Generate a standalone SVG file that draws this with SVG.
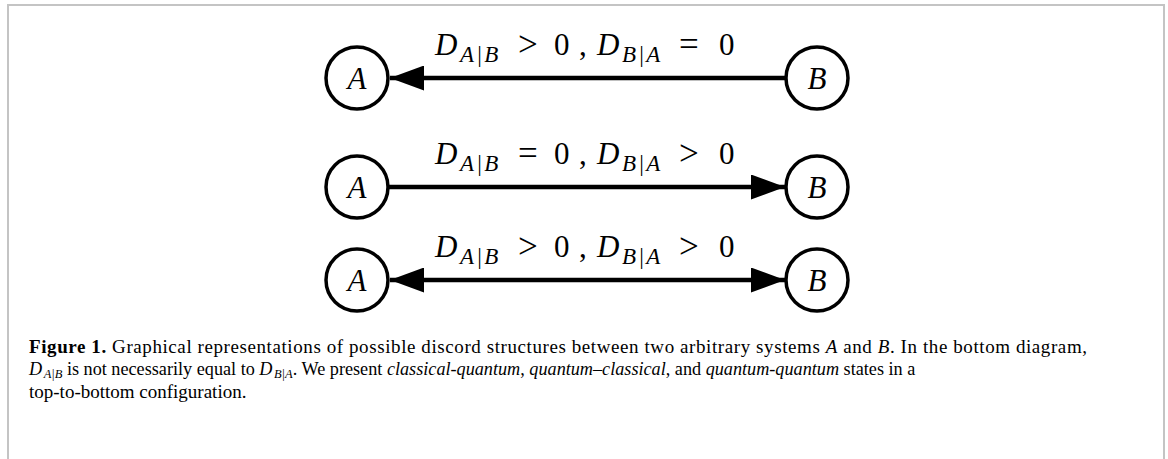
<svg xmlns="http://www.w3.org/2000/svg" width="1168" height="459" viewBox="0 0 1168 459">
<style>
.frame{fill:none;stroke:#c4c4c4;stroke-width:2}
.node circle{fill:#fff;stroke:#000;stroke-width:3.5}
.nl{font-family:"Liberation Serif",serif;font-style:italic;font-size:31px;text-anchor:middle}
.edge{stroke:#000;stroke-width:4.5;fill:none}
.lbl{font-family:"Liberation Serif",serif;font-size:31px}
.it{font-style:italic}
.rel{font-size:35px}
.sub{font-size:23px;letter-spacing:2px;font-style:italic}
.cap{font-family:"Liberation Serif",serif;font-size:19px;fill:#000}
.cap2{font-size:18.2px}
.csub{font-size:12.5px;font-style:italic}
</style>
<defs>
<marker id="ah" viewBox="0 0 34 25" refX="34" refY="12.5" markerWidth="34" markerHeight="25" markerUnits="userSpaceOnUse" orient="auto-start-reverse">
<path d="M0,0 L34,12.5 L0,25 Z" fill="#000"/>
</marker>
</defs>
<rect x="0" y="0" width="1168" height="459" fill="#fff"/>
<path class="frame" d="M8,470 L8,5 L1164,5 L1164,470"/>

<g id="connectors">
<line class="edge" x1="785" y1="78" x2="390" y2="78" marker-end="url(#ah)"/>
<line class="edge" x1="389" y1="187" x2="785" y2="187" marker-end="url(#ah)"/>
<line class="edge" x1="390" y1="280" x2="785" y2="280" marker-start="url(#ah)" marker-end="url(#ah)"/>
</g>

<g id="node-A1" class="node"><circle cx="357" cy="78" r="31"/><text class="nl" x="357" y="89">A</text></g>
<g id="node-B1" class="node"><circle cx="817" cy="78" r="31"/><text class="nl" x="817" y="89">B</text></g>
<g id="node-A2" class="node"><circle cx="357" cy="187" r="31"/><text class="nl" x="357" y="198">A</text></g>
<g id="node-B2" class="node"><circle cx="817" cy="187" r="31"/><text class="nl" x="817" y="198">B</text></g>
<g id="node-A3" class="node"><circle cx="357" cy="280" r="31"/><text class="nl" x="357" y="291">A</text></g>
<g id="node-B3" class="node"><circle cx="817" cy="280" r="31"/><text class="nl" x="817" y="291">B</text></g>

<g id="labels">
<text class="lbl"><tspan class="it" x="435" y="55">D</tspan><tspan class="sub" x="460" y="62">A|B</tspan><tspan class="rel" x="518" y="56">&gt;</tspan><tspan x="554" y="55">0</tspan><tspan x="579" y="55">,</tspan><tspan class="it" x="597" y="55">D</tspan><tspan class="sub" x="622" y="62">B|A</tspan><tspan class="rel" x="679" y="56">=</tspan><tspan x="719" y="55">0</tspan></text>
<text class="lbl"><tspan class="it" x="435" y="164">D</tspan><tspan class="sub" x="460" y="171">A|B</tspan><tspan class="rel" x="518" y="165">=</tspan><tspan x="554" y="164">0</tspan><tspan x="579" y="164">,</tspan><tspan class="it" x="597" y="164">D</tspan><tspan class="sub" x="622" y="171">B|A</tspan><tspan class="rel" x="679" y="165">&gt;</tspan><tspan x="719" y="164">0</tspan></text>
<text class="lbl"><tspan class="it" x="435" y="257">D</tspan><tspan class="sub" x="460" y="264">A|B</tspan><tspan class="rel" x="518" y="258">&gt;</tspan><tspan x="554" y="257">0</tspan><tspan x="579" y="257">,</tspan><tspan class="it" x="597" y="257">D</tspan><tspan class="sub" x="622" y="264">B|A</tspan><tspan class="rel" x="679" y="258">&gt;</tspan><tspan x="719" y="257">0</tspan></text>
</g>

<g id="caption">
<text class="cap" x="29" y="353" textLength="1058" lengthAdjust="spacing"><tspan font-weight="bold">Figure 1.</tspan> Graphical representations of possible discord structures between two arbitrary systems <tspan font-style="italic">A</tspan> and <tspan font-style="italic">B</tspan>. In the bottom diagram,</text>
<text class="cap cap2" x="29" y="375"><tspan font-style="italic">D</tspan><tspan class="csub" dx="1.5" dy="3">A|B</tspan><tspan dy="-3"> is not necessarily equal to </tspan><tspan font-style="italic">D</tspan><tspan class="csub" dx="1.5" dy="3">B|A</tspan><tspan dy="-3">. We present </tspan><tspan font-style="italic">classical-quantum</tspan>, <tspan font-style="italic">quantum–classical</tspan>, and <tspan font-style="italic">quantum-quantum</tspan> states in a</text>
<text class="cap" x="29" y="398">top-to-bottom configuration.</text>
</g>
</svg>
